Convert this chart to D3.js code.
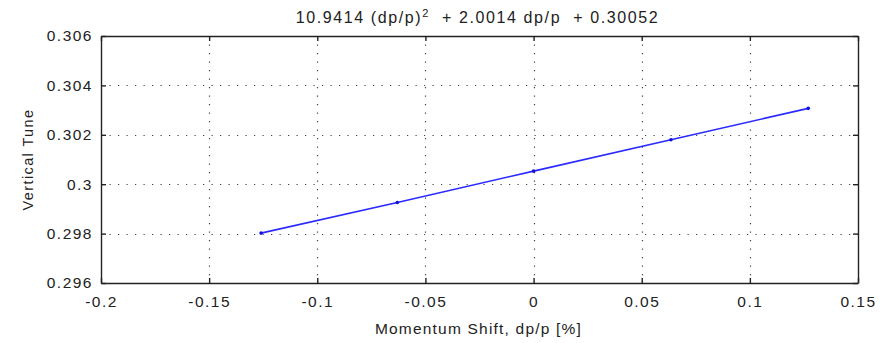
<!DOCTYPE html>
<html>
<head>
<meta charset="utf-8">
<script src="https://cdn.jsdelivr.net/npm/d3@7"></script>
<style>
  html, body { margin: 0; padding: 0; background: #fff; }
  svg { display: block; font-family: "Liberation Sans", Arial, sans-serif; }
</style>
</head>
<body>
<div id="chart"></div>
<script>
// data
var dpp   = [-0.126, -0.063, 0, 0.0635, 0.127];
var tune  = [0.29802, 0.29926, 0.30053, 0.30180, 0.30307];
var xTicks = [-0.2, -0.15, -0.1, -0.05, 0, 0.05, 0.1, 0.15];
var yTicks = [0.296, 0.298, 0.3, 0.302, 0.304, 0.306];
var xTickLabels = ['-0.2', '-0.15', '-0.1', '-0.05', '0', '0.05', '0.1', '0.15'];
var yTickLabels = ['0.296', '0.298', '0.3', '0.302', '0.304', '0.306'];

var width = 888, height = 343;
var margin = {top: 36, right: 30, bottom: 60, left: 101};
var w = width - margin.left - margin.right,
    h = height - margin.top - margin.bottom;

var svg = d3.select('#chart').append('svg')
  .attr('width', width)
  .attr('height', height);

var g = svg.append('g')
  .attr('transform', 'translate(' + margin.left + ',' + margin.top + ')');

var x = d3.scaleLinear().domain([-0.2, 0.15]).range([0, w]);
var y = d3.scaleLinear().domain([0.296, 0.306]).range([h, 0]);

// dotted grid
g.selectAll('line.gx').data(xTicks.slice(1, -1)).enter().append('line')
  .attr('x1', function(d){ return Math.round(x(d)) + 0.5; })
  .attr('x2', function(d){ return Math.round(x(d)) + 0.5; })
  .attr('y1', 0).attr('y2', h)
  .style('stroke', '#444').style('stroke-width', 1.2)
  .style('stroke-dasharray', '1.2,7.3');
g.selectAll('line.gy').data(yTicks.slice(1, -1)).enter().append('line')
  .attr('y1', function(d){ return Math.round(y(d)) + 0.5; })
  .attr('y2', function(d){ return Math.round(y(d)) + 0.5; })
  .attr('x1', 0).attr('x2', w)
  .style('stroke', '#444').style('stroke-width', 1.2)
  .style('stroke-dasharray', '1.2,7.3');

// axes, ticks inward
var tk = 5;
var xb = d3.axisBottom(x).tickValues(xTicks).tickSizeInner(-tk).tickSizeOuter(0)
  .tickFormat(function(d, i){ return xTickLabels[i]; }).tickPadding(13);
var xt = d3.axisTop(x).tickValues(xTicks).tickSizeInner(-tk).tickSizeOuter(0).tickFormat('');
var yl = d3.axisLeft(y).tickValues(yTicks).tickSizeInner(-tk).tickSizeOuter(0)
  .tickFormat(function(d, i){ return yTickLabels[i]; }).tickPadding(8);
var yr = d3.axisRight(y).tickValues(yTicks).tickSizeInner(-tk).tickSizeOuter(0).tickFormat('');

function style(sel) {
  sel.selectAll('path, line').style('stroke', '#222').style('stroke-width', 1.4);
  sel.selectAll('text').style('fill', '#222').style('font-size', '15.5px')
    .style('letter-spacing', '1.5px')
    .style('font-family', '"Liberation Sans", Arial, sans-serif');
}
g.append('g').attr('transform', 'translate(0,' + h + ')').call(xb).call(style);
g.append('g').call(xt).call(style);
g.append('g').call(yl).call(style);
g.append('g').attr('transform', 'translate(' + w + ',0)').call(yr).call(style);

// data line
var line = d3.line()
  .x(function(d, i){ return x(dpp[i]); })
  .y(function(d){ return y(d); });
g.append('path').datum(tune)
  .attr('d', line)
  .style('fill', 'none').style('stroke', '#2a2aff').style('stroke-width', 1.6);
g.selectAll('circle.pt').data(tune).enter().append('circle')
  .attr('cx', function(d, i){ return x(dpp[i]); })
  .attr('cy', function(d){ return y(d); })
  .attr('r', 1.8)
  .style('fill', '#1010e0');

// texts
var title = svg.append('text')
  .attr('x', margin.left + w / 2 - 2).attr('y', 23)
  .attr('text-anchor', 'middle')
  .attr('xml:space', 'preserve')
  .style('font-size', '16px').style('letter-spacing', '1.6px').style('fill', '#222');
title.append('tspan').text('10.9414 (dp/p)');
title.append('tspan').attr('dy', -6).style('font-size', '11px').text('2');
title.append('tspan').attr('dy', 6).text('  + 2.0014 dp/p  + 0.30052');

svg.append('text')
  .attr('x', margin.left + w / 2 - 1).attr('y', 334)
  .attr('text-anchor', 'middle')
  .style('font-size', '15.5px').style('letter-spacing', '1.2px').style('fill', '#222')
  .text('Momentum Shift, dp/p [%]');

svg.append('text')
  .attr('transform', 'translate(33,' + (margin.top + h / 2) + ') rotate(-90)')
  .attr('text-anchor', 'middle')
  .style('font-size', '14.5px').style('letter-spacing', '1.4px').style('fill', '#222')
  .text('Vertical Tune');
</script>
</body>
</html>
